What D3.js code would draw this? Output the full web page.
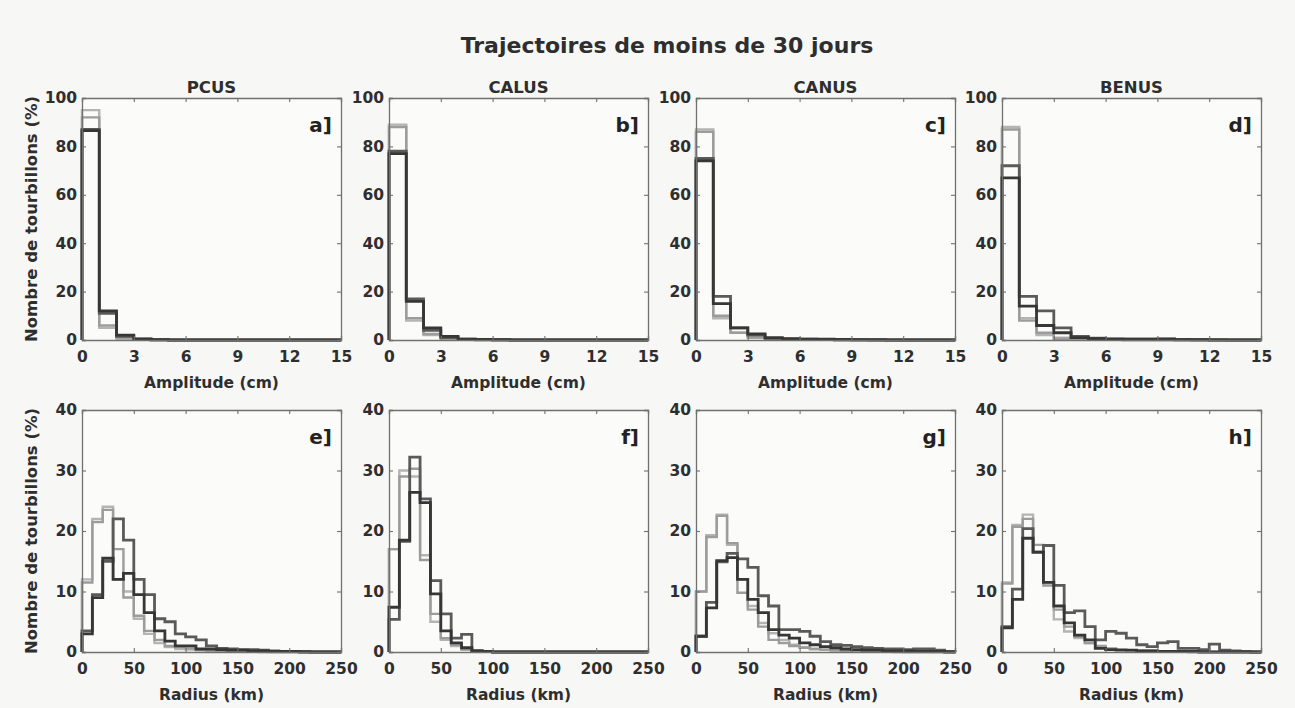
<!DOCTYPE html>
<html><head><meta charset="utf-8">
<script src="https://cdn.jsdelivr.net/npm/d3@7"></script>
<style>
html,body{margin:0;padding:0;background:#f7f7f6;}
svg{display:block;font-family:"DejaVu Sans",Arial,sans-serif;}
</style></head>
<body>
<svg id="c" width="1295" height="708"></svg>
<script>
// ---------- data ----------
const figureTitle = "Trajectoires de moins de 30 jours";
const regions = ["PCUS", "CALUS", "CANUS", "BENUS"];
const topLetters = ["a]", "b]", "c]", "d]"];
const bottomLetters = ["e]", "f]", "g]", "h]"];
const seriesNames = ["light1", "light2", "dark1", "dark2"];
const seriesColors = ["#b4b4b4", "#9c9c9c", "#5a5a5a", "#363636"];
const amplitudeTicks = [0, 3, 6, 9, 12, 15];
const radiusTicks = [0, 50, 100, 150, 200, 250];
const amplitudeYTicks = [0, 20, 40, 60, 80, 100];
const radiusYTicks = [0, 10, 20, 30, 40];
const amplitudeBinWidth = 1;   // cm
const radiusBinWidth = 10;     // km

// Amplitude histograms (%), bins of 1 cm from 0 to 15
const ampPCUS_light1 = [95, 5, 0.5, 0.2, 0.1, 0, 0, 0, 0, 0, 0, 0, 0, 0, 0];
const ampPCUS_light2 = [92, 6, 1, 0.3, 0.1, 0, 0, 0, 0, 0, 0, 0, 0, 0, 0];
const ampPCUS_dark1  = [87, 11, 1.5, 0.3, 0.1, 0, 0, 0, 0, 0, 0, 0, 0, 0, 0];
const ampPCUS_dark2  = [86.5, 12, 2, 0.5, 0.1, 0, 0, 0, 0, 0, 0, 0, 0, 0, 0];

const ampCALUS_light1 = [89, 8, 2, 0.5, 0.2, 0.1, 0, 0, 0, 0, 0, 0, 0, 0, 0];
const ampCALUS_light2 = [88, 9, 2.5, 0.6, 0.2, 0.1, 0, 0, 0, 0, 0, 0, 0, 0, 0];
const ampCALUS_dark1  = [78, 17, 4, 1, 0.3, 0.1, 0.1, 0, 0, 0, 0, 0, 0, 0, 0];
const ampCALUS_dark2  = [77, 16, 5, 1.5, 0.4, 0.2, 0.1, 0, 0, 0, 0, 0, 0, 0, 0];

const ampCANUS_light1 = [87, 9, 3, 1, 0.4, 0.2, 0.1, 0.1, 0, 0, 0, 0, 0, 0, 0];
const ampCANUS_light2 = [86, 10, 3, 1, 0.5, 0.2, 0.1, 0.1, 0, 0, 0, 0, 0, 0, 0];
const ampCANUS_dark1  = [75, 18, 5, 2, 0.7, 0.4, 0.3, 0.2, 0.1, 0.1, 0, 0, 0, 0, 0];
const ampCANUS_dark2  = [74, 15, 5, 2.5, 1, 0.6, 0.4, 0.3, 0.2, 0.1, 0.1, 0, 0, 0, 0];

const ampBENUS_light1 = [88, 9, 2, 1, 0.3, 0.2, 0.1, 0, 0, 0, 0, 0, 0, 0, 0];
const ampBENUS_light2 = [87, 8, 3, 0.5, 0.3, 0.2, 0.1, 0, 0, 0, 0, 0, 0, 0, 0];
const ampBENUS_dark1  = [72, 18, 12, 5, 1.5, 0.8, 0.5, 0.4, 0.4, 0.5, 0.2, 0.1, 0.1, 0, 0];
const ampBENUS_dark2  = [67, 14, 6, 3, 1, 0.6, 0.4, 0.3, 0.3, 0.3, 0.1, 0.1, 0, 0, 0];

// Radius histograms (%), bins of 10 km from 0 to 250
const radPCUS_light1 = [12, 22, 24, 12, 10, 5.5, 3, 1.5, 0.8, 0.5, 0.4, 0.3, 0.2, 0.2, 0.1, 0.1, 0.1, 0, 0, 0, 0, 0, 0, 0, 0];
const radPCUS_light2 = [11.5, 21.5, 23.5, 17, 9, 6, 3.5, 2, 1, 0.8, 0.6, 0.4, 0.3, 0.2, 0.2, 0.1, 0.1, 0.1, 0, 0, 0, 0, 0, 0, 0];
const radPCUS_dark1  = [3.5, 9.5, 15, 22, 18.5, 12, 9.5, 5.5, 5, 3, 2.5, 2, 1, 0.6, 0.5, 0.4, 0.4, 0.3, 0.2, 0.1, 0.1, 0.1, 0, 0, 0];
const radPCUS_dark2  = [3, 9, 15.5, 12, 13, 9.5, 6.5, 3.5, 1.8, 1, 1, 0.5, 0.5, 0.4, 0.3, 0.3, 0.2, 0.2, 0.1, 0.1, 0.1, 0, 0, 0, 0];

const radCALUS_light1 = [17, 30, 29, 16, 5, 2, 1, 0.5, 0.2, 0.1, 0, 0, 0, 0, 0, 0, 0, 0, 0, 0, 0, 0, 0, 0, 0];
const radCALUS_light2 = [17, 29, 30.3, 15.2, 6.3, 2.3, 1.2, 0.4, 0.2, 0.1, 0, 0, 0, 0, 0, 0, 0, 0, 0, 0, 0, 0, 0, 0, 0];
const radCALUS_dark1  = [5.4, 18.3, 32.2, 25.3, 11.8, 6.3, 2.3, 2.9, 0.2, 0.1, 0, 0, 0, 0, 0, 0, 0, 0, 0, 0, 0, 0, 0, 0, 0];
const radCALUS_dark2  = [7.4, 18.5, 26.4, 24.7, 9.6, 3.5, 1.5, 0.7, 0.2, 0.1, 0, 0, 0, 0, 0, 0, 0, 0, 0, 0, 0, 0, 0, 0, 0];

const radCANUS_light1 = [10, 19.3, 22.7, 17.7, 12, 7.6, 4.8, 3.1, 2, 1.2, 0.8, 0.5, 0.4, 0.3, 0.2, 0.2, 0.1, 0.1, 0.1, 0.1, 0, 0, 0, 0, 0];
const radCANUS_light2 = [10, 19, 22.5, 18, 9.8, 7, 4.2, 2, 1.5, 1, 0.7, 0.5, 0.4, 0.3, 0.2, 0.2, 0.1, 0.1, 0.1, 0, 0, 0, 0, 0, 0];
const radCANUS_dark1  = [2.6, 8.2, 14.9, 16.3, 15.4, 14, 9.3, 7.6, 3.7, 3.7, 3.4, 2.6, 1.7, 1.2, 1.1, 0.9, 0.7, 0.6, 0.5, 0.5, 0.4, 0.5, 0.5, 0.3, 0.1];
const radCANUS_dark2  = [2.6, 7.3, 15.1, 15.6, 12, 8.7, 6.5, 3.7, 2.8, 2.3, 1.5, 1.2, 0.9, 0.7, 0.5, 0.4, 0.3, 0.3, 0.2, 0.2, 0.2, 0.1, 0.1, 0.1, 0];

const radBENUS_light1 = [11.5, 21, 22.7, 16.5, 11.5, 5.4, 3.4, 2.3, 1.5, 0.8, 0.5, 0.4, 0.3, 0.2, 0.2, 0.1, 0.1, 0.1, 0, 0, 0, 0, 0, 0, 0];
const radBENUS_light2 = [11.3, 20.7, 22, 17.7, 11, 7, 4.2, 2.5, 1.5, 1, 0.6, 0.4, 0.3, 0.2, 0.2, 0.1, 0.1, 0.1, 0, 0, 0, 0, 0, 0, 0];
const radBENUS_dark1  = [4.2, 10.4, 20.4, 16.5, 17.6, 11, 6.5, 6.8, 4.2, 2, 3.4, 3.1, 2.3, 1.2, 0.9, 1.5, 1.7, 0.6, 0.6, 0.4, 1.3, 0.3, 0.2, 0.1, 0];
const radBENUS_dark2  = [4, 8.7, 18.8, 16.5, 11.5, 7.6, 4.8, 2.8, 2, 0.6, 0.4, 0.3, 0.3, 0.2, 0.2, 0.1, 0.1, 0.1, 0.1, 0, 0, 0, 0, 0, 0];

const amplitudeSeries = [
  [ampPCUS_light1, ampPCUS_light2, ampPCUS_dark1, ampPCUS_dark2],
  [ampCALUS_light1, ampCALUS_light2, ampCALUS_dark1, ampCALUS_dark2],
  [ampCANUS_light1, ampCANUS_light2, ampCANUS_dark1, ampCANUS_dark2],
  [ampBENUS_light1, ampBENUS_light2, ampBENUS_dark1, ampBENUS_dark2]
];
const radiusSeries = [
  [radPCUS_light1, radPCUS_light2, radPCUS_dark1, radPCUS_dark2],
  [radCALUS_light1, radCALUS_light2, radCALUS_dark1, radCALUS_dark2],
  [radCANUS_light1, radCANUS_light2, radCANUS_dark1, radCANUS_dark2],
  [radBENUS_light1, radBENUS_light2, radBENUS_dark1, radBENUS_dark2]
];

// ---------- layout ----------
const svg = d3.select("#c");
const colLeft = [82, 389, 696, 1002];
const plotW = 259;
const rows = [
  {top: 98, h: 242, series: amplitudeSeries, xMax: 15, yMax: 100, bin: amplitudeBinWidth,
   xTicks: amplitudeTicks, yTicks: amplitudeYTicks, xLabel: "Amplitude (cm)", letters: topLetters, titles: true},
  {top: 410, h: 242, series: radiusSeries, xMax: 250, yMax: 40, bin: radiusBinWidth,
   xTicks: radiusTicks, yTicks: radiusYTicks, xLabel: "Radius (km)", letters: bottomLetters, titles: false}
];

const textCol = "#2e2e2e";
const axisCol = "#707070";
const FONT = "DejaVu Sans, Arial, sans-serif";

svg.append("text").attr("x", 667).attr("y", 53).attr("text-anchor", "middle")
  .attr("font-size", 22).attr("font-weight", "bold").attr("fill", textCol).text(figureTitle);

rows.forEach((row, ri) => {
  regions.forEach((reg, ci) => {
    const x0 = colLeft[ci];
    const x = d3.scaleLinear().domain([0, row.xMax]).range([x0, x0 + plotW]);
    const y = d3.scaleLinear().domain([0, row.yMax]).range([row.top + row.h, row.top]);
    const g = svg.append("g");

    g.append("rect").attr("x", x0).attr("y", row.top).attr("width", plotW).attr("height", row.h)
      .attr("fill", "#fbfbfa");

    // histograms (stairs)
    row.series[ci].forEach((vals, si) => {
      const pts = [[0, 0]];
      vals.forEach((v, i) => { pts.push([i * row.bin, v]); pts.push([(i + 1) * row.bin, v]); });
      pts.push([vals.length * row.bin, 0]);
      const line = d3.line().x(d => x(d[0])).y(d => y(d[1]));
      g.append("path").attr("d", line(pts)).attr("fill", "none")
        .attr("stroke", seriesColors[si]).attr("stroke-width", si >= 2 ? 2.8 : 2.4)
        .attr("stroke-linejoin", "miter");
    });

    // axes
    const ax = d3.axisBottom(x).tickValues(row.xTicks).tickSize(-4).tickPadding(11).tickFormat(d3.format("d"));
    const ay = d3.axisLeft(y).tickValues(row.yTicks).tickSize(-4).tickPadding(5).tickFormat(d3.format("d"));
    const axTop = d3.axisTop(x).tickValues(row.xTicks).tickSize(-4).tickFormat("");
    const ayRight = d3.axisRight(y).tickValues(row.yTicks).tickSize(-4).tickFormat("");
    const styleAxis = sel => {
      sel.select(".domain").attr("stroke", axisCol).attr("stroke-width", 1.3);
      sel.selectAll(".tick line").attr("stroke", axisCol).attr("stroke-width", 1.1);
      sel.selectAll(".tick text").attr("fill", textCol).attr("font-size", 15.5).attr("font-weight", "bold")
        .attr("font-family", FONT);
    };
    g.append("g").attr("transform", `translate(0,${row.top + row.h})`).call(ax).call(styleAxis);
    g.append("g").attr("transform", `translate(${x0},0)`).call(ay).call(styleAxis);
    g.append("g").attr("transform", `translate(0,${row.top})`).call(axTop).call(styleAxis);
    g.append("g").attr("transform", `translate(${x0 + plotW},0)`).call(ayRight).call(styleAxis);

    // x label
    g.append("text").attr("x", x0 + plotW / 2).attr("y", row.top + row.h + 48).attr("text-anchor", "middle")
      .attr("font-size", 15.5).attr("font-weight", "bold").attr("fill", textCol).text(row.xLabel);

    // panel letter
    g.append("text").attr("x", x0 + plotW - 9).attr("y", row.top + 34).attr("text-anchor", "end")
      .attr("font-size", 20).attr("font-weight", "bold").attr("fill", "#222").text(row.letters[ci]);

    // region title
    if (row.titles) {
      g.append("text").attr("x", x0 + plotW / 2).attr("y", row.top - 5).attr("text-anchor", "middle")
        .attr("font-size", 16.5).attr("font-weight", "bold").attr("fill", textCol).text(reg);
    }

    // y label on first column
    if (ci === 0) {
      const cy = row.top + row.h / 2;
      g.append("text").attr("transform", `translate(37,${cy}) rotate(-90)`).attr("text-anchor", "middle")
        .attr("font-size", 16.5).attr("font-weight", "bold").attr("fill", textCol).text("Nombre de tourbillons (%)");
    }
  });
});
</script>
</body></html>
